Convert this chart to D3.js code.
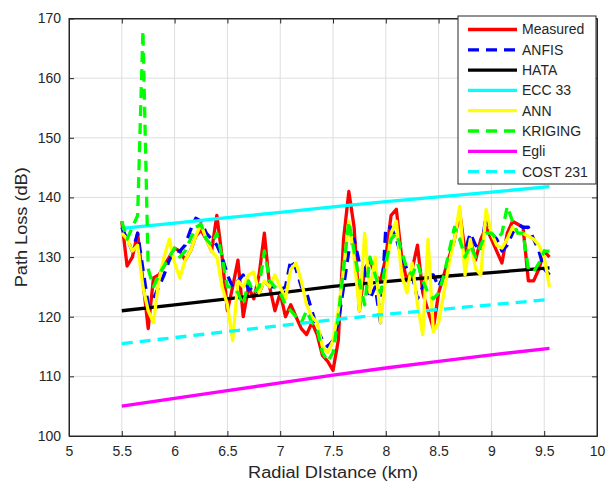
<!DOCTYPE html>
<html>
<head>
<meta charset="utf-8">
<script src="https://cdn.jsdelivr.net/npm/d3@7"></script>
<style>
  body { margin: 0; background: #fff; }
  text { font-family: "Liberation Sans", Arial, sans-serif; }
</style>
</head>
<body>
<script>
// radial distance (km) of the sampled points
var distance = [
  5.50, 5.55, 5.60, 5.65, 5.70, 5.75, 5.80, 5.85, 5.90, 5.95,
  6.00, 6.05, 6.10, 6.15, 6.20, 6.25, 6.30, 6.35, 6.40, 6.45,
  6.50, 6.55, 6.60, 6.65, 6.70, 6.75, 6.80, 6.85, 6.90, 6.95,
  7.00, 7.05, 7.10, 7.15, 7.20, 7.25, 7.30, 7.35, 7.40, 7.45,
  7.50, 7.55, 7.60, 7.65, 7.70, 7.75, 7.80, 7.85, 7.90, 7.95,
  8.00, 8.05, 8.10, 8.15, 8.20, 8.25, 8.30, 8.35, 8.40, 8.45,
  8.50, 8.55, 8.60, 8.65, 8.70, 8.75, 8.80, 8.85, 8.90, 8.95,
  9.00, 9.05, 9.10, 9.15, 9.20, 9.25, 9.30, 9.35, 9.40, 9.45,
  9.50, 9.55
];

var measured = [
  136, 128.5, 130, 134, 126, 118, 126.5, 127, 128.5, 130,
  131.5, 131, 129.5, 131, 133.5, 134.5, 133, 131, 137, 130,
  121, 125, 129.5, 120, 125, 123, 127, 134, 125, 121,
  124, 120, 122, 120, 118, 117, 119, 117, 113.5, 112.5,
  111, 116, 133, 141, 135, 121, 128, 129.5, 127, 126,
  130, 137, 138, 130, 126, 128, 132, 124, 121, 118,
  124, 127, 130, 133, 137.5, 131, 133, 129.5, 133, 135,
  133, 131, 129, 134, 136, 135.5, 135, 126, 126, 128,
  131, 130
];

var anfis = [
  135, 133, 131, 134, 128, 122, 123, 125, 127, 129.5,
  131, 131, 132, 134.5, 136.5, 136, 134, 133, 132, 130,
  127, 125, 126, 127, 124.5, 125, 124, 126, 125, 125,
  124.5, 125, 129.5, 128, 125, 124, 121, 118, 116, 115,
  116, 119, 125, 131, 133, 129, 128, 123, 125, 119,
  135, 135, 133, 130, 128, 127, 123, 125, 127, 127,
  125, 127, 130, 133, 133, 131, 134, 132, 131, 137,
  134, 133, 131, 132, 134, 135.5, 135, 135, 133, 131,
  128, 127
];

var ann = [
  134, 133, 131, 132, 125, 121, 119, 126, 130, 133,
  129, 126.5, 129.5, 131, 133.5, 135.5, 133, 131, 130, 125,
  122, 116, 126, 125, 127, 127.5, 124, 126, 125, 127,
  125, 123, 128, 129, 126, 122, 120, 119, 115, 114,
  116, 121, 128, 136, 130, 121, 134, 124, 130, 119,
  127, 134, 136, 127, 124, 129, 122, 117, 133, 117.5,
  119, 124, 129, 133, 138.5, 127, 133, 128, 127, 138,
  134, 132, 131.5, 133, 135, 134, 134, 133.5, 133, 132,
  130, 125
];

var kriging = [
  136, 133, 135, 137, 168, 128, 125, 127, 128.5, 130,
  131.5, 130, 131, 133, 135, 135.5, 133, 132, 134, 130,
  125, 125, 124, 122, 126, 124, 125, 131, 126, 125,
  124, 122, 121, 120, 119, 121, 119, 118, 114, 112.5,
  114, 120, 128, 136, 131, 126, 122, 130, 127, 124,
  129, 133, 134, 131, 128, 127, 129, 126, 124, 123,
  124, 127, 131, 135, 133, 130, 132, 130, 132, 134,
  134, 133, 134, 138.5, 136, 134, 134, 128, 127.5, 129,
  131, 131
];

// empirical models, read at coarser distances
var modelDistance = [5.5, 6, 6.5, 7, 7.5, 8, 8.5, 9, 9.55];
var hata    = [121, 122, 123, 124, 125.1, 125.9, 126.7, 127.4, 128.2];
var ecc33   = [134.8, 135.7, 136.6, 137.5, 138.4, 139.3, 140.1, 140.9, 141.8];
var egli    = [105, 106.3, 107.6, 108.9, 110.2, 111.4, 112.5, 113.6, 114.7];
var cost231 = [115.5, 116.5, 117.5, 118.5, 119.5, 120.4, 121.2, 122, 122.9];

var xTicks = [5, 5.5, 6, 6.5, 7, 7.5, 8, 8.5, 9, 9.5, 10];
var yTicks = [100, 110, 120, 130, 140, 150, 160, 170];

// drawing order follows the legend order
var series = [
  { name: 'Measured', xs: distance, ys: measured, color: '#ff0000', dash: null },
  { name: 'ANFIS', xs: distance, ys: anfis, color: '#0000ff', dash: '11,7' },
  { name: 'HATA', xs: modelDistance, ys: hata, color: '#000000', dash: null },
  { name: 'ECC 33', xs: modelDistance, ys: ecc33, color: '#00ffff', dash: null },
  { name: 'ANN', xs: distance, ys: ann, color: '#ffff00', dash: null },
  { name: 'KRIGING', xs: distance, ys: kriging, color: '#00ff00', dash: '11,7' },
  { name: 'Egli', xs: modelDistance, ys: egli, color: '#ff00ff', dash: null },
  { name: 'COST 231', xs: modelDistance, ys: cost231, color: '#00ffff', dash: '11,7' }
];

function drawChart() {
  var W = 607, H = 486;
  var pLeft = 69, pRight = 597, pTop = 18.5, pBottom = 436;
  var axisColor = '#262626';

  var svg = d3.select('body').append('svg')
    .attr('width', W).attr('height', H);

  var x = d3.scaleLinear().domain([5, 10]).range([pLeft, pRight]);
  var y = d3.scaleLinear().domain([100, 170]).range([pBottom, pTop]);

  // grid
  svg.append('g').selectAll('line').data(xTicks.slice(1, -1)).enter().append('line')
    .attr('x1', function(d) { return x(d); }).attr('x2', function(d) { return x(d); })
    .attr('y1', pTop).attr('y2', pBottom)
    .attr('stroke', '#dedede').attr('stroke-width', 1);
  svg.append('g').selectAll('line').data(yTicks.slice(1, -1)).enter().append('line')
    .attr('y1', function(d) { return y(d); }).attr('y2', function(d) { return y(d); })
    .attr('x1', pLeft).attr('x2', pRight)
    .attr('stroke', '#dedede').attr('stroke-width', 1);

  svg.append('defs').append('clipPath').attr('id', 'plot')
    .append('rect').attr('x', pLeft).attr('y', pTop)
    .attr('width', pRight - pLeft).attr('height', pBottom - pTop);

  var line = d3.line()
    .x(function(d) { return x(d[0]); })
    .y(function(d) { return y(d[1]); });

  var plot = svg.append('g').attr('clip-path', 'url(#plot)');
  series.forEach(function(s) {
    plot.append('path')
      .datum(d3.zip(s.xs, s.ys))
      .attr('d', line)
      .attr('fill', 'none')
      .attr('stroke', s.color)
      .attr('stroke-width', 3.3)
      .attr('stroke-linejoin', 'round')
      .attr('stroke-dasharray', s.dash);
  });

  // axes: ticks pointing inward on all four sides
  svg.append('g').attr('transform', 'translate(0,' + pBottom + ')')
    .call(d3.axisBottom(x).tickValues(xTicks).tickSizeInner(-5).tickSizeOuter(0)
      .tickPadding(10).tickFormat(function(d) { return d; }));
  svg.append('g').attr('transform', 'translate(0,' + pTop + ')')
    .call(d3.axisTop(x).tickValues(xTicks).tickSizeInner(-5).tickSizeOuter(0)
      .tickFormat(''));
  svg.append('g').attr('transform', 'translate(' + pLeft + ',0)')
    .call(d3.axisLeft(y).tickValues(yTicks).tickSizeInner(-5).tickSizeOuter(0)
      .tickPadding(8));
  svg.append('g').attr('transform', 'translate(' + pRight + ',0)')
    .call(d3.axisRight(y).tickValues(yTicks).tickSizeInner(-5).tickSizeOuter(0)
      .tickFormat(''));

  svg.selectAll('.domain').attr('stroke', axisColor);
  svg.selectAll('.tick line').attr('stroke', axisColor);
  svg.selectAll('.tick text')
    .attr('fill', axisColor)
    .style('font-size', '14px')
    .style('font-family', '"Liberation Sans", Arial, sans-serif');
  svg.append('rect').attr('x', pLeft).attr('y', pTop)
    .attr('width', pRight - pLeft).attr('height', pBottom - pTop)
    .attr('fill', 'none').attr('stroke', axisColor).attr('stroke-width', 1);

  // axis labels (the source figure is slightly stretched sideways)
  svg.append('text')
    .attr('x', (pLeft + pRight) / 2).attr('y', 478)
    .attr('text-anchor', 'middle')
    .attr('fill', axisColor)
    .attr('textLength', 170)
    .attr('lengthAdjust', 'spacingAndGlyphs')
    .style('font-size', '16px')
    .text('Radial DIstance (km)');
  svg.append('text')
    .attr('transform', 'translate(27,' + (pTop + pBottom) / 2 + ') rotate(-90)')
    .attr('text-anchor', 'middle')
    .attr('fill', axisColor)
    .attr('textLength', 120)
    .attr('lengthAdjust', 'spacingAndGlyphs')
    .style('font-size', '16px')
    .text('Path Loss (dB)');

  // legend
  var legend = svg.append('g');
  legend.append('rect')
    .attr('x', 458).attr('y', 16).attr('width', 138).attr('height', 168)
    .attr('fill', '#fff').attr('stroke', axisColor).attr('stroke-width', 1);
  series.forEach(function(s, i) {
    var ly = 29.5 + i * 20.3;
    legend.append('line')
      .attr('x1', 468).attr('x2', 517).attr('y1', ly).attr('y2', ly)
      .attr('stroke', s.color).attr('stroke-width', 3.3)
      .attr('stroke-dasharray', s.dash);
    legend.append('text')
      .attr('x', 522).attr('y', ly).attr('dy', '0.35em')
      .attr('fill', axisColor)
      .style('font-size', '14px')
      .text(s.name);
  });
}

drawChart();
</script>
</body>
</html>
